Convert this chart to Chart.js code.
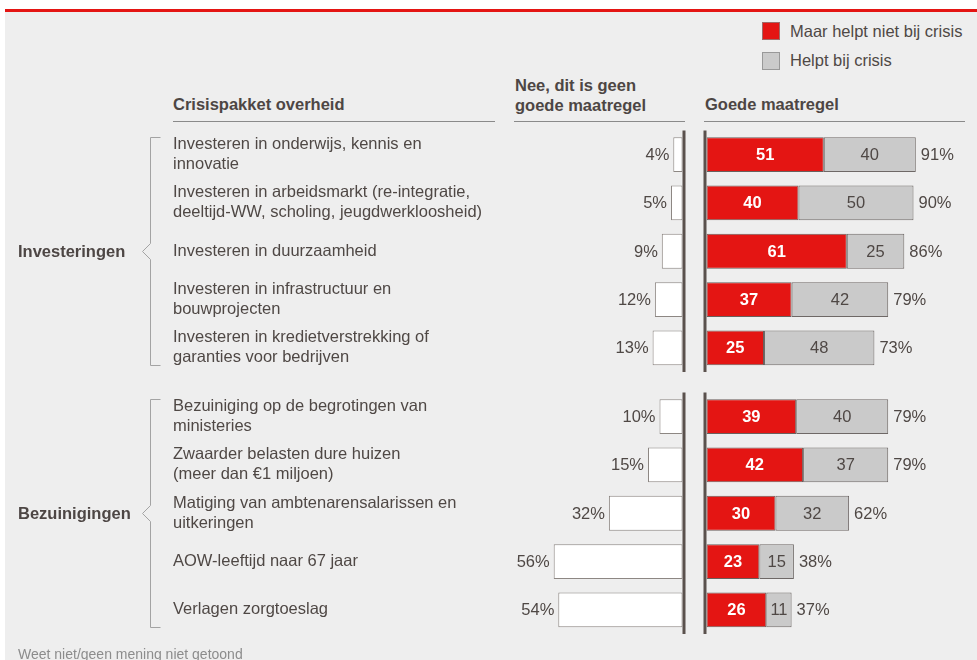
<!DOCTYPE html>
<html><head><meta charset="utf-8">
<script src="https://cdn.jsdelivr.net/npm/chart.js@4/dist/chart.umd.min.js"></script>
<style>
html,body{margin:0;padding:0;background:#fff;}
#wrap{position:relative;width:977px;height:660px;overflow:hidden;background:#fff;font-family:'Liberation Sans',Arial,sans-serif;color:#4f4845;}
#panel{position:absolute;left:5px;top:12px;right:0;bottom:0;background:#eeeeee;}
#redline{position:absolute;left:5px;top:9px;right:0;height:3px;background:#e41513;}
.hdr{position:absolute;font-weight:bold;font-size:16.5px;line-height:20px;color:#4d4644;white-space:nowrap;}
.ul{position:absolute;height:1px;background:#8a8a8a;top:121px;}
.lg{position:absolute;font-size:16.5px;line-height:20px;white-space:nowrap;color:#4f4845;}
.sw{position:absolute;width:18px;height:18px;box-sizing:border-box;}
canvas{position:absolute;}
#foot{position:absolute;left:18px;top:646px;font-size:14px;line-height:16px;color:#8c8c8c;white-space:nowrap;}
</style></head>
<body>
<div id="wrap">
  <div id="panel"></div>
  <div id="redline"></div>
  <div class="sw" style="left:762px;top:22px;background:#e41513;border:1px solid #a06a68;"></div>
  <div class="lg" style="left:790px;top:21px;">Maar helpt niet bij crisis</div>
  <div class="sw" style="left:762px;top:52px;background:#cbcbcb;border:1px solid #999;"></div>
  <div class="lg" style="left:790px;top:50px;">Helpt bij crisis</div>

  <div class="hdr" style="left:173px;top:94px;">Crisispakket overheid</div>
  <div class="hdr" style="left:515px;top:75px;">Nee, dit is geen<br>goede maatregel</div>
  <div class="hdr" style="left:705px;top:94px;">Goede maatregel</div>
  <div class="ul" style="left:173px;width:322px;"></div>
  <div class="ul" style="left:514px;width:171px;"></div>
  <div class="ul" style="left:704px;width:261px;"></div>

  <canvas id="noTop" width="690" height="265" style="left:5px;top:120px;"></canvas>
  <canvas id="yesTop" width="282" height="265" style="left:695px;top:120px;"></canvas>
  <canvas id="noBot" width="690" height="265" style="left:5px;top:382px;"></canvas>
  <canvas id="yesBot" width="282" height="265" style="left:695px;top:382px;"></canvas>

  <div id="foot">Weet niet/geen mening niet getoond</div>
</div>
<script>
// ---- DATA ----
const groupNames = ['Investeringen', 'Bezuinigingen'];
const labelsInv = [
  ['Investeren in onderwijs, kennis en', 'innovatie'],
  ['Investeren in arbeidsmarkt (re-integratie,', 'deeltijd-WW, scholing, jeugdwerkloosheid)'],
  'Investeren in duurzaamheid',
  ['Investeren in infrastructuur en', 'bouwprojecten'],
  ['Investeren in kredietverstrekking of', 'garanties voor bedrijven']
];
const noInv      = [4, 5, 9, 12, 13];
const notHelpInv = [51, 40, 61, 37, 25];
const helpInv    = [40, 50, 25, 42, 48];

const labelsBez = [
  ['Bezuiniging op de begrotingen van', 'ministeries'],
  ['Zwaarder belasten dure huizen', '(meer dan \u20ac1 miljoen)'],
  ['Matiging van ambtenarensalarissen en', 'uitkeringen'],
  'AOW-leeftijd naar 67 jaar',
  'Verlagen zorgtoeslag'
];
const noBez      = [10, 15, 32, 56, 54];
const notHelpBez = [39, 42, 30, 23, 26];
const helpBez    = [40, 37, 32, 15, 11];

const seriesNames = ['Nee, dit is geen goede maatregel', 'Maar helpt niet bij crisis', 'Helpt bij crisis'];

// ---- STYLE ----
const FONT = "'Liberation Sans', Arial, sans-serif";
const TXT = '#4f4845';
const RED = '#e41513', GRAY = '#cacaca', WHITE = '#ffffff';
const AXIS = '#5a514d';
const PX_PER_PCT = 2.30;

const pad = {top: 10.5, bottom: 13};

function noChart(id, labels, values, group) {
  const W = 690, padL = 168, padR = 12.5, axisW = 332;
  const areaW = W - padL - padR - axisW;
  return new Chart(document.getElementById(id), {
    type: 'bar',
    data: {
      labels: labels,
      datasets: [{
        label: seriesNames[0], data: values,
        backgroundColor: WHITE, borderColor: '#8d8783', borderWidth: 1, borderSkipped: false,
        barPercentage: 0.72, categoryPercentage: 1
      }]
    },
    options: {
      indexAxis: 'y', responsive: false, animation: false, events: [],
      layout: {padding: {left: padL, right: padR, top: pad.top, bottom: pad.bottom}, autoPadding: false},
      plugins: {legend: {display: false}, tooltip: {enabled: false}},
      scales: {
        x: {display: false, reverse: true, min: 0, max: areaW / PX_PER_PCT},
        y: {
          grid: {display: false}, border: {display: false},
          afterFit: s => { s.width = axisW; s.paddingTop = 0; s.paddingBottom = 0; },
          ticks: {crossAlign: 'far', padding: 0, color: TXT,
                  font: {family: FONT, size: 16.5, lineHeight: '20px'}}
        }
      }
    },
    plugins: [{
      id: 'noDeco',
      afterDatasetsDraw(chart) {
        const ctx = chart.ctx, meta = chart.getDatasetMeta(0), xs = chart.scales.x, ca = chart.chartArea;
        ctx.save();
        ctx.font = '16.5px ' + FONT; ctx.fillStyle = TXT;
        ctx.textAlign = 'right'; ctx.textBaseline = 'middle';
        meta.data.forEach((bar, i) => {
          ctx.fillText(chart.data.datasets[0].data[i] + '%', bar.x - 4, bar.y + 1);
        });
        // vertical axis line
        const x0 = xs.getPixelForValue(0) + 1.5;
        ctx.strokeStyle = AXIS; ctx.lineWidth = 3;
        ctx.beginPath(); ctx.moveTo(x0, ca.top); ctx.lineTo(x0, ca.bottom); ctx.stroke();
        // bracket
        const first = meta.data[0], last = meta.data[meta.data.length - 1];
        const top = Math.round(first.y - first.height / 2) + 0.5;
        const bot = Math.round(last.y + last.height / 2) + 0.5;
        const mid = (top + bot) / 2;
        const bx = 145.5;
        ctx.strokeStyle = '#a3a3a3'; ctx.lineWidth = 1;
        ctx.beginPath();
        ctx.moveTo(bx + 10, top); ctx.lineTo(bx, top); ctx.lineTo(bx, mid - 8);
        ctx.lineTo(bx - 8, mid); ctx.lineTo(bx, mid + 8); ctx.lineTo(bx, bot); ctx.lineTo(bx + 10, bot);
        ctx.stroke();
        // group label
        ctx.font = 'bold 16.5px ' + FONT; ctx.fillStyle = '#4d4644';
        ctx.textAlign = 'left';
        ctx.fillText(group, 13, mid + 1);
        ctx.restore();
      }
    }]
  });
}

function yesChart(id, labels, notHelp, help) {
  const W = 282, padL = 11.5, padR = 2;
  const areaW = W - padL - padR;
  return new Chart(document.getElementById(id), {
    type: 'bar',
    data: {
      labels: labels,
      datasets: [
        {label: seriesNames[1], data: notHelp, backgroundColor: RED, borderColor: '#6a5f5c',
         borderWidth: 1, borderSkipped: false, barPercentage: 0.72, categoryPercentage: 1},
        {label: seriesNames[2], data: help, backgroundColor: GRAY, borderColor: '#6e6866',
         borderWidth: 1, borderSkipped: false, barPercentage: 0.72, categoryPercentage: 1}
      ]
    },
    options: {
      indexAxis: 'y', responsive: false, animation: false, events: [],
      layout: {padding: {left: padL, right: padR, top: pad.top, bottom: pad.bottom}, autoPadding: false},
      plugins: {legend: {display: false}, tooltip: {enabled: false}},
      scales: {
        x: {display: false, stacked: true, min: 0, max: areaW / PX_PER_PCT},
        y: {display: false, stacked: true}
      }
    },
    plugins: [{
      id: 'yesDeco',
      afterDatasetsDraw(chart) {
        const ctx = chart.ctx, m0 = chart.getDatasetMeta(0), m1 = chart.getDatasetMeta(1);
        const d0 = chart.data.datasets[0].data, d1 = chart.data.datasets[1].data;
        const xs = chart.scales.x, ca = chart.chartArea;
        ctx.save();
        ctx.textBaseline = 'middle';
        m0.data.forEach((bar, i) => {
          const g = m1.data[i];
          ctx.textAlign = 'center';
          ctx.font = 'bold 16.5px ' + FONT; ctx.fillStyle = '#ffffff';
          ctx.fillText(d0[i], (bar.base + bar.x) / 2, bar.y + 1);
          ctx.font = '16.5px ' + FONT; ctx.fillStyle = TXT;
          ctx.fillText(d1[i], (g.base + g.x) / 2, g.y + 1);
          ctx.textAlign = 'left';
          ctx.fillText((d0[i] + d1[i]) + '%', g.x + 5, g.y + 1);
        });
        const x0 = xs.getPixelForValue(0) - 1.5;
        ctx.strokeStyle = AXIS; ctx.lineWidth = 3;
        ctx.beginPath(); ctx.moveTo(x0, ca.top); ctx.lineTo(x0, ca.bottom); ctx.stroke();
        ctx.restore();
      }
    }]
  });
}

noChart('noTop', labelsInv, noInv, groupNames[0]);
yesChart('yesTop', labelsInv, notHelpInv, helpInv);
noChart('noBot', labelsBez, noBez, groupNames[1]);
yesChart('yesBot', labelsBez, notHelpBez, helpBez);
</script>
</body></html>
